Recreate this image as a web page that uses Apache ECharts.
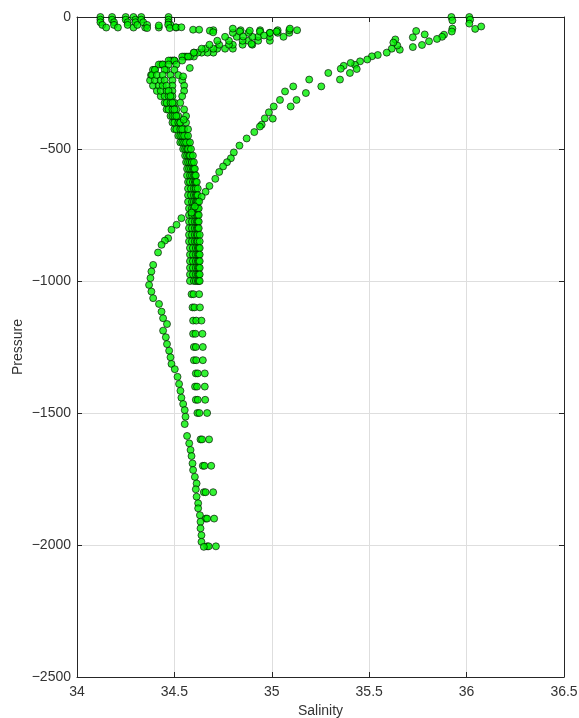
<!DOCTYPE html>
<html><head><meta charset="utf-8">
<script src="https://cdn.jsdelivr.net/npm/echarts@6/dist/echarts.min.js"></script>
<style>html,body{margin:0;padding:0;background:#fff}#c{width:579px;height:718px}</style>
</head><body><div id="c"></div>
<script>
// ---- axis ticks ----
const xTicks = [34, 34.5, 35, 35.5, 36, 36.5];
const yTicks = [-2500, -2000, -1500, -1000, -500, 0];

// ---- group A profiles (shared pressure levels, 0 .. -1000 dbar) ----
const presA = [0,-10,-20,-30,-40,-50,-60,-75,-90,-105,-120,-135,-150,-165,-180,-200,-220,-240,-260,-280,-300,-325,-350,-375,-400,-425,-450,-475,-500,-525,-550,-575,-600,-625,-650,-675,-700,-725,-750,-775,-800,-825,-850,-875,-900,-925,-950,-975,-1000];
const salA1 = [34.12,34.12,34.12,34.13,34.15,35.13,35.09,35.06,34.99,34.90,34.80,34.70,34.60,34.50,34.44,34.40,34.38,34.375,34.39,34.41,34.43,34.45,34.46,34.48,34.49,34.50,34.52,34.53,34.545,34.555,34.56,34.565,34.565,34.57,34.57,34.57,34.57,34.575,34.575,34.575,34.575,34.575,34.575,34.58,34.58,34.58,34.58,34.58,34.58];
const salA2 = [34.18,34.18,34.19,34.19,34.21,35.09,35.03,34.99,34.93,34.85,34.76,34.67,34.58,34.49,34.43,34.39,34.385,34.40,34.42,34.43,34.45,34.46,34.47,34.49,34.50,34.51,34.53,34.54,34.555,34.565,34.57,34.575,34.58,34.58,34.585,34.585,34.59,34.59,34.59,34.59,34.59,34.59,34.59,34.595,34.595,34.595,34.595,34.595,34.60];
const salA3 = [34.25,34.25,34.26,34.26,34.29,35.03,34.99,34.93,34.88,34.80,34.72,34.64,34.56,34.48,34.42,34.40,34.41,34.43,34.44,34.46,34.47,34.48,34.49,34.50,34.52,34.53,34.54,34.55,34.565,34.575,34.58,34.585,34.59,34.595,34.60,34.60,34.60,34.60,34.605,34.605,34.605,34.605,34.605,34.61,34.61,34.61,34.61,34.61,34.61];
const salA4 = [34.29,34.30,34.30,34.31,34.35,34.94,34.99,34.90,34.85,34.78,34.70,34.62,34.55,34.47,34.44,34.46,34.48,34.49,34.49,34.49,34.49,34.50,34.51,34.52,34.53,34.55,34.56,34.57,34.575,34.585,34.59,34.595,34.60,34.605,34.61,34.61,34.61,34.615,34.615,34.615,34.615,34.615,34.615,34.62,34.62,34.62,34.62,34.62,34.62];
const salA5 = [34.33,34.33,34.34,34.36,34.42,34.84,34.88,34.82,34.78,34.73,34.66,34.60,34.54,34.50,34.47,34.45,34.44,34.45,34.46,34.47,34.48,34.49,34.50,34.51,34.53,34.54,34.55,34.56,34.57,34.58,34.59,34.60,34.605,34.61,34.61,34.615,34.615,34.62,34.62,34.62,34.62,34.62,34.62,34.625,34.625,34.625,34.625,34.625,34.625];
const salA6 = [34.47,34.47,34.47,34.48,34.51,34.70,34.80,34.76,34.72,34.68,34.64,34.60,34.57,34.54,34.51,34.50,34.52,34.54,34.55,34.55,34.54,34.53,34.55,34.56,34.56,34.57,34.57,34.58,34.585,34.595,34.60,34.605,34.61,34.615,34.62,34.62,34.62,34.625,34.625,34.625,34.625,34.63,34.63,34.63,34.63,34.63,34.63,34.63,34.63];

// extra scattered points of group A near the surface / subsurface maximum
const salExtra  = [34.42,34.468,34.476,34.507,34.536,34.596,34.627,34.682,34.699,34.36,34.80,34.836,34.887,34.939,35.025,35.093,34.853,34.896,34.96,34.545,34.579,34.548];
const presExtra = [-32,-29,-42,-39,-39,-48,-48,-52,-58,-42,-44,-55,-52,-55,-55,-44,-74,-102,-70,-225,-193,-389];

// group A deep samples (every 50/100 dbar)
const presDeep = [-1050,-1100,-1150,-1200,-1250,-1300,-1350,-1400,-1450,-1500,-1600,-1700,-1800,-1900,-2005];
const salDeepL = [34.588,34.593,34.596,34.596,34.600,34.600,34.610,34.606,34.610,34.618,34.634,34.646,34.651,34.661,34.668];
const salDeepM = [34.598,34.603,34.612,34.608,34.610,34.612,34.620,34.616,34.620,34.628,34.642,34.654,34.660,34.668,34.676];
const salDeepR = [34.627,34.631,34.639,34.644,34.646,34.646,34.656,34.656,34.658,34.668,34.678,34.689,34.699,34.704,34.713];

// ---- group B profile (saline surface water) ----
const salB = [35.922,35.927,35.927,35.924,35.884,35.874,35.848,35.807,35.771,35.724,35.785,35.741,35.724,35.657,35.644,35.634,35.624,35.616,35.59,35.544,35.514,35.49,35.453,35.427,35.405,35.369,35.354,35.29,35.436,35.401,35.35,35.254,35.192,35.175,35.11,35.127,35.097,36.014,36.018,36.014,36.044,36.075,35.068,35.042,35.01,34.985,35.005,34.964,34.948,34.939,34.91,34.871,34.834,34.805,34.79,34.77,34.75,34.73,34.71,34.68,34.66,34.64,34.627,34.605,34.588,34.536,34.511,34.485,34.468,34.451,34.434,34.416,34.391,34.382,34.377,34.37,34.382,34.391,34.421,34.434,34.442,34.462,34.442,34.456,34.462,34.473,34.48,34.485,34.502,34.516,34.524,34.531,34.536,34.545,34.553,34.557,34.553,34.565,34.576,34.583,34.588,34.593,34.596,34.605,34.614,34.61,34.614,34.622,34.622,34.631,34.634,34.634,34.639,34.639,34.651];
const presB = [0,-13,-44,-55,-67,-75,-83,-92,-106,-114,-66,-53,-77,-124,-108,-85,-97,-120,-135,-144,-149,-161,-168,-181,-174,-185,-196,-212,-197,-212,-237,-263,-237,-288,-263,-314,-339,0,-10,-25,-45,-36,-282,-314,-339,-361,-385,-384,-408,-415,-436,-460,-487,-513,-535,-550,-566,-587,-613,-640,-662,-681,-699,-718,-741,-762,-787,-806,-838,-847,-863,-892,-939,-964,-989,-1015,-1040,-1065,-1087,-1116,-1141,-1163,-1188,-1213,-1239,-1264,-1289,-1314,-1334,-1363,-1390,-1416,-1442,-1466,-1489,-1514,-1542,-1587,-1615,-1640,-1663,-1691,-1716,-1742,-1767,-1789,-1817,-1842,-1861,-1887,-1912,-1937,-1963,-1988,-2007];

// ---- build ----
function zip(s, p) { return s.map((v, i) => [v, p[i]]); }
const groups = [
  zip(salA1, presA), zip(salA2, presA), zip(salA3, presA),
  zip(salA4, presA), zip(salA5, presA), zip(salA6, presA),
  zip(salExtra, presExtra),
  zip(salDeepL, presDeep), zip(salDeepM, presDeep), zip(salDeepR, presDeep),
  zip(salB, presB)
];

const FONT = '"Liberation Sans", Arial, Helvetica, sans-serif';
const TXT = '#333333';
const AX = '#262626';
const markerStyle = { color: '#00f000', borderColor: '#000000', borderWidth: 0.8 };

const chart = echarts.init(document.getElementById('c'), null, { renderer: 'canvas' });
chart.setOption({
  animation: false,
  backgroundColor: '#ffffff',
  textStyle: { fontFamily: FONT },
  grid: { left: 77, right: 15, top: 17, bottom: 41, containLabel: false, outerBoundsMode: 'none' },
  xAxis: [{
    type: 'value', min: xTicks[0], max: xTicks[xTicks.length - 1], interval: 0.5,
    name: 'Salinity', nameLocation: 'middle', nameGap: 27, nameMoveOverlap: false,
    nameTextStyle: { color: TXT, fontSize: 14, fontFamily: FONT },
    axisLine: { show: true, onZero: false, lineStyle: { color: AX, width: 1 } },
    axisTick: { show: true, inside: true, length: 5, lineStyle: { color: AX } },
    axisLabel: { color: TXT, fontSize: 14, fontFamily: FONT, margin: 8 },
    splitLine: { show: true, lineStyle: { color: '#dedede', width: 1 } }
  }, {
    type: 'value', position: 'top', min: xTicks[0], max: xTicks[xTicks.length - 1], interval: 0.5,
    axisLine: { show: true, onZero: false, lineStyle: { color: AX, width: 1 } },
    axisTick: { show: true, inside: true, length: 5, lineStyle: { color: AX } },
    axisLabel: { show: false }, splitLine: { show: false }
  }],
  yAxis: [{
    type: 'value', min: yTicks[0], max: yTicks[yTicks.length - 1], interval: 500,
    name: 'Pressure', nameLocation: 'middle', nameGap: 52, nameMoveOverlap: false,
    nameTextStyle: { color: TXT, fontSize: 14, fontFamily: FONT },
    axisLine: { show: true, onZero: false, lineStyle: { color: AX, width: 1 } },
    axisTick: { show: true, inside: true, length: 5, lineStyle: { color: AX } },
    axisLabel: { color: TXT, fontSize: 14, fontFamily: FONT, margin: 6,
      formatter: v => String(v).replace('-', '\u2212') },
    splitLine: { show: true, lineStyle: { color: '#dedede', width: 1 } }
  }, {
    type: 'value', position: 'right', min: yTicks[0], max: yTicks[yTicks.length - 1], interval: 500,
    axisLine: { show: true, onZero: false, lineStyle: { color: AX, width: 1 } },
    axisTick: { show: true, inside: true, length: 5, lineStyle: { color: AX } },
    axisLabel: { show: false }, splitLine: { show: false }
  }],
  series: groups.map(d => ({
    type: 'scatter', xAxisIndex: 0, yAxisIndex: 0,
    symbol: 'circle', symbolSize: 7, clip: false,
    itemStyle: markerStyle, data: d
  }))
});
</script>
</body></html>
